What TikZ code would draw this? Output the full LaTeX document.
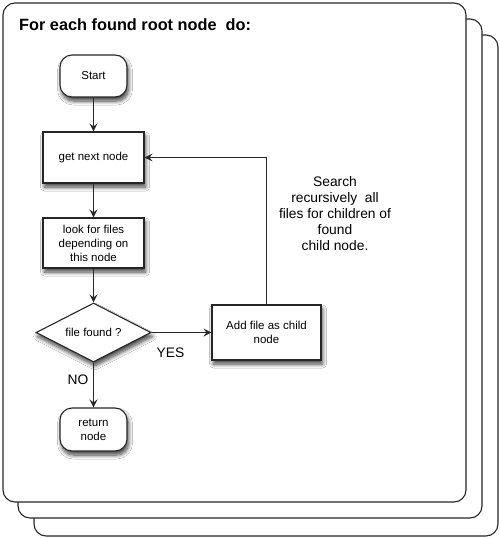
\documentclass[tikz,border=0pt]{standalone}
\usepackage{fontspec}
\setmainfont{Liberation Sans}
\usetikzlibrary{arrows.meta,shapes.geometric,shadows.blur}
\begin{document}
\begin{tikzpicture}[x=1pt,y=1pt,
  sheet/.style={draw=black!85,line width=1.1pt,rounded corners=12pt,fill=white},
  shad/.style={blur shadow={shadow xshift=1.5pt,shadow yshift=-4pt,shadow blur steps=8,shadow blur radius=4pt,shadow opacity=75}},
  box/.style={draw=black!85,line width=1.1pt,fill=white,shad,align=center,inner sep=0pt,
     font=\fontsize{11.5}{14}\selectfont},
  term/.style={box,rounded corners=12pt,minimum width=67pt,minimum height=42pt},
  proc/.style={box,minimum width=101pt,minimum height=51pt},
  dec/.style={box,diamond,aspect=1.95,minimum width=115pt,minimum height=59pt},
  conn/.style={draw=black!85,line width=1.3pt,-{Stealth[length=8pt,width=8pt,inset=3pt]}},
  lab/.style={font=\fontsize{13.8}{16}\selectfont,align=center}]
\useasboundingbox (0,0) rectangle (500,-538);
% stacked sheets
\path[sheet] (34,-35) rectangle (498,-536);
\path[sheet] (18,-19) rectangle (482,-518);
\path[sheet] (3,-3) rectangle (466,-502);
\node[anchor=base west,font=\fontsize{16.3}{19}\bfseries\selectfont,inner sep=0pt] (title) at (19,-30) {For each found root node\ \ do:};
% nodes
\node[term] (start) at (93.5,-76) {Start};
\node[proc] (next) at (93.5,-157.5) {get next node};
\node[proc,minimum height=50pt] (look) at (93.5,-243) {look for files\\depending on\\this node};
\node[dec] (found) at (93.5,-332.5) {file found ?};
\node[proc,minimum width=109pt,minimum height=55pt] (add) at (266.5,-332.5) {Add file as child\\node};
\node[term,minimum height=43pt] (ret) at (93.5,-429.5) {return\\node};
\coordinate (corner) at (266.5,-157.5);
% connectors
\draw[conn] (start) -- (next);
\draw[conn] (next) -- (look);
\draw[conn] (look) -- (found);
\draw[conn] (found) -- (add);
\draw[conn] (found) -- (ret);
\draw[conn,line width=1.1pt] (add.north) -- (corner) -- (next.east);
% labels
\node[lab] (yes) at (170.5,-353) {YES};
\node[lab] (no) at (78,-380) {NO};
\node[lab] (search) at (335,-214) {Search\\recursively\ \ all\\files for children of\\found\\child node.};
\end{tikzpicture}
\end{document}
